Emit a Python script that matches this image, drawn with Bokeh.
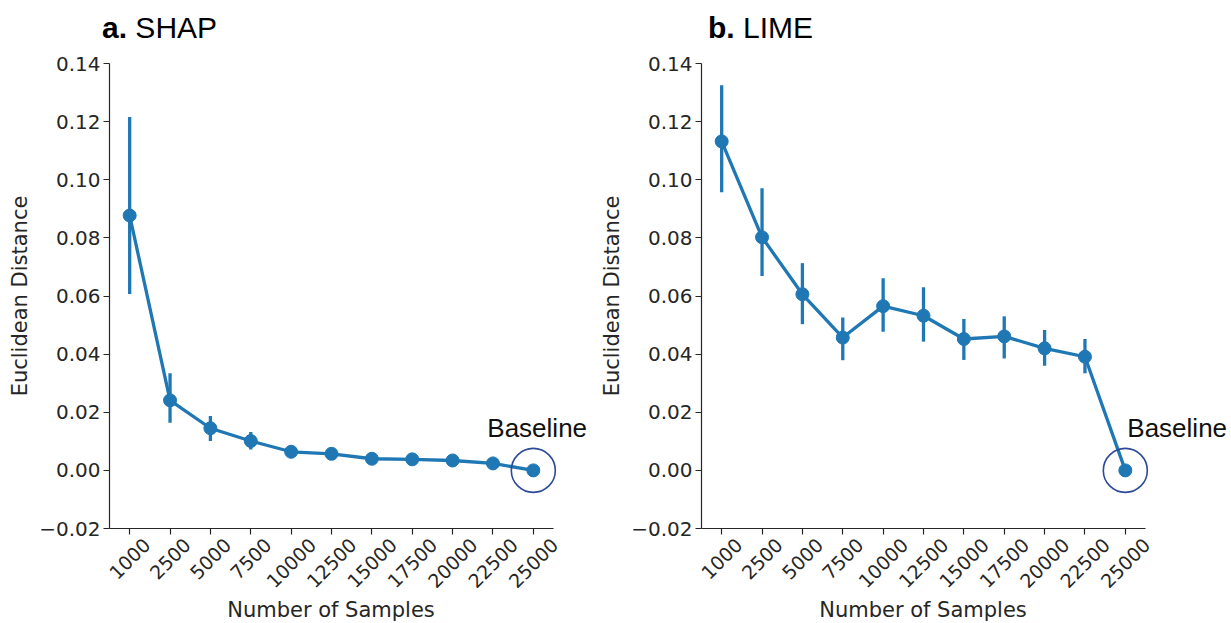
from bokeh.plotting import figure
from bokeh.models import Range1d, FixedTicker, Label, Div, LinearAxis
from bokeh.layouts import row, column
from bokeh.embed import file_html
from bokeh.resources import INLINE
import math

samples = ["1000", "2500", "5000", "7500", "10000", "12500", "15000",
           "17500", "20000", "22500", "25000"]

shap_mean = [0.0877, 0.0241, 0.0145, 0.0101, 0.0064, 0.0057, 0.0040, 0.0038, 0.0034, 0.0024, 0.0]
shap_lo = [0.0607, 0.0164, 0.0101, 0.0072, 0.0058, 0.0052, 0.0036, 0.0034, 0.0030, 0.0020, 0.0]
shap_hi = [0.1216, 0.0334, 0.0187, 0.0132, 0.0070, 0.0062, 0.0044, 0.0042, 0.0038, 0.0028, 0.0]

lime_mean = [0.1132, 0.0802, 0.0606, 0.0457, 0.0565, 0.0532, 0.0452, 0.0461, 0.0420, 0.0391, 0.0]
lime_lo = [0.0957, 0.0669, 0.0503, 0.0379, 0.0477, 0.0443, 0.0380, 0.0385, 0.0360, 0.0334, 0.0]
lime_hi = [0.1325, 0.0971, 0.0713, 0.0526, 0.0661, 0.0630, 0.0521, 0.0530, 0.0483, 0.0452, 0.0]

y_ticks = [-0.02, 0.0, 0.02, 0.04, 0.06, 0.08, 0.10, 0.12, 0.14]
y_tick_labels = ["\u22120.02", "0.00", "0.02", "0.04", "0.06", "0.08", "0.10", "0.12", "0.14"]

x_label = "Number of Samples"
y_label = "Euclidean Distance"

LINE = "#1f77b4"
RING = "#2d4a98"
AX = "#262626"

TITLE_H = 50
XLAB_H = 26
FIG_H = 623 - TITLE_H - XLAB_H
BORDER_L = 109
AXIS_W = 444
PX_PER_CAT = AXIS_W / 11.0
XT_FS = 19            # x tick label font size (px)
DIGIT_EM = 0.636      # DejaVu Sans digit advance


def make_panel(letter, name, mean, lo, hi, width, title_pad, base_dx):
    xs = list(range(len(samples)))
    frame_w = width - BORDER_L
    x_start = xs[0] - 0.5
    x_end = x_start + frame_w / PX_PER_CAT
    p = figure(width=width, height=FIG_H, x_range=Range1d(x_start, x_end),
               y_range=Range1d(-0.02, 0.14), output_backend="svg",
               toolbar_location=None, tools="")
    p.min_border_left = BORDER_L
    p.min_border_right = 0
    p.min_border_top = 63 - TITLE_H
    p.min_border_bottom = 94 - XLAB_H
    p.outline_line_color = None
    p.background_fill_color = "white"
    p.border_fill_color = "white"
    p.xgrid.visible = False
    p.ygrid.visible = False

    p.segment(x0=xs, x1=xs, y0=lo, y1=hi, line_color=LINE, line_width=3.3)
    p.line(x=xs, y=mean, line_color=LINE, line_width=3.3)
    p.scatter(x=xs, y=mean, size=13, fill_color=LINE, line_color=LINE)
    p.scatter(x=[xs[-1]], y=[mean[-1]], size=44, fill_color=None,
              line_color=RING, line_width=1.6)

    for ax in (p.xaxis[0], p.yaxis[0]):
        ax.axis_line_color = AX
        ax.axis_line_width = 1.2
        ax.major_tick_line_color = AX
        ax.major_tick_line_width = 1.2
        ax.major_tick_out = 6
        ax.major_tick_in = 0
        ax.minor_tick_line_color = None
        ax.major_label_text_color = AX
        ax.major_label_text_font = "DejaVu Sans"

    p.yaxis.ticker = FixedTicker(ticks=y_ticks)
    p.yaxis.major_label_overrides = {t: s for t, s in zip(y_ticks, y_tick_labels)}
    p.yaxis.major_label_text_font_size = "20px"
    p.yaxis.axis_label = y_label
    p.yaxis.axis_label_text_font = "DejaVu Sans"
    p.yaxis.axis_label_text_font_style = "normal"
    p.yaxis.axis_label_text_color = AX
    p.yaxis.axis_label_text_font_size = "21px"
    p.yaxis.axis_label_standoff = 4
    p.yaxis.major_label_standoff = 3

    # main x axis: line and ticks only
    p.xaxis.ticker = FixedTicker(ticks=xs)
    p.xaxis.major_label_overrides = {x: "" for x in xs}
    p.xaxis.major_label_standoff = 0
    p.xaxis.bounds = (xs[0] - 0.5, xs[-1] + 0.5)

    # label axis: rotated labels centred on their ticks (matplotlib style)
    shifted = [x + 0.3536 * len(s) * DIGIT_EM * XT_FS / PX_PER_CAT
               for x, s in zip(xs, samples)]
    lab = LinearAxis(ticker=FixedTicker(ticks=shifted),
                     major_label_overrides={t: s for t, s in zip(shifted, samples)})
    lab.axis_line_color = None
    lab.major_tick_line_color = None
    lab.minor_tick_line_color = None
    lab.major_tick_out = 0
    lab.major_tick_in = 0
    lab.major_label_orientation = math.pi / 4
    lab.major_label_text_font = "DejaVu Sans"
    lab.major_label_text_font_size = f"{XT_FS}px"
    lab.major_label_text_color = AX
    lab.major_label_standoff = 7
    p.add_layout(lab, "below")

    p.add_layout(Label(x=xs[-1], y=mean[-1], x_offset=base_dx, y_offset=42,
                       text="Baseline", text_font="Liberation Sans",
                       text_font_size="26px", text_color="#111111",
                       text_baseline="alphabetic"))

    title = Div(text=(
        f'<div style="font-family:\'Liberation Sans\',Arial,sans-serif;font-size:30px;'
        f'line-height:30px;color:#000;padding-left:{title_pad}px;padding-top:13px;'
        f'white-space:nowrap;"><b>{letter}</b> {name}</div>'),
        width=width, height=TITLE_H, margin=0)
    xlab = Div(text=(
        f'<div style="font-family:\'DejaVu Sans\',sans-serif;font-size:21px;'
        f'line-height:{XLAB_H}px;color:{AX};margin-left:{BORDER_L}px;width:{AXIS_W}px;'
        f'text-align:center;white-space:nowrap;">{x_label}</div>'),
        width=width, height=XLAB_H, margin=0)
    return column(title, p, xlab, spacing=0)


c1 = make_panel("a.", "SHAP", shap_mean, shap_lo, shap_hi, 592, 102, -46)
c2 = make_panel("b.", "LIME", lime_mean, lime_lo, lime_hi, 639, 116, 2)

layout = row(c1, c2, spacing=0)
open("out.html", "w").write(file_html(layout, INLINE))
